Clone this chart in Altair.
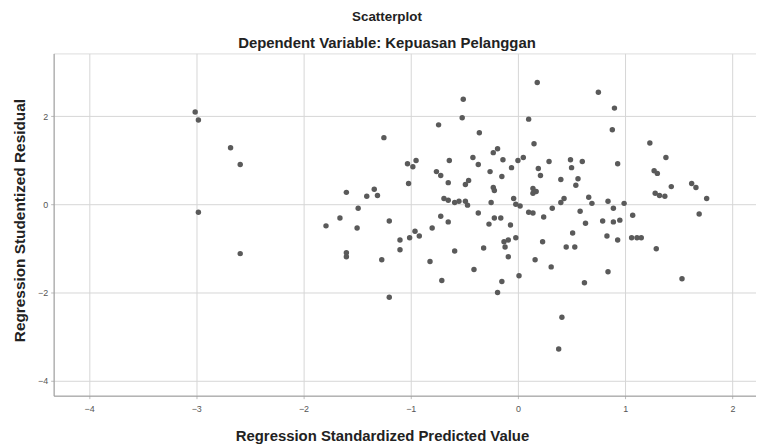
import altair as alt
import pandas as pd

# Regression Standardized Predicted Value
pred = [
    -3.01, -2.98, -2.68, -2.59, -2.98, -2.59, -1.79, -1.66, -1.60, -1.60,
    -1.60, -1.50, -1.49, -1.41, -1.34, -1.31, -1.27, -1.25, -1.20, -1.20,
    -1.10, -1.10, -1.03, -0.98, -0.95, -1.02, -1.01, -0.96, -0.92, -0.82,
    -0.80, -0.76, -0.72, -0.74, -0.72, -0.71, -0.69, -0.65, -0.65, -0.65,
    -0.64, -0.59, -0.59, -0.55, -0.52, -0.51, -0.49, -0.47, -0.46, -0.49,
    -0.42, -0.37, -0.41, -0.37, -0.36, -0.32, -0.27, -0.26, -0.25, -0.23,
    -0.22, -0.22, -0.23, -0.19, -0.19, -0.16, -0.15, -0.15, -0.14, -0.13,
    -0.12, -0.09, -0.09, -0.07, -0.06, -0.04, -0.02, 0.02, -0.02, 0.00,
    0.05, 0.01, 0.10, 0.10, 0.14, 0.14, 0.17, 0.14, 0.15, 0.16,
    0.18, 0.19, 0.21, 0.23, 0.24, 0.29, 0.31, 0.32, 0.38, 0.40,
    0.40, 0.43, 0.41, 0.45, 0.49, 0.50, 0.51, 0.53, 0.54, 0.56,
    0.58, 0.60, 0.62, 0.63, 0.66, 0.69, 0.75, 0.79, 0.83, 0.84,
    0.89, 0.84, 0.88, 0.89, 0.90, 0.93, 0.93, 0.95, 0.99, 1.06,
    1.11, 1.15, 1.07, 1.23, 1.27, 1.30, 1.28, 1.32, 1.37, 1.29,
    1.38, 1.43, 1.53, 1.62, 1.66, 1.69, 1.76,
]

# Regression Studentized Residual
resid = [
    2.09, 1.91, 1.28, 0.90, -0.18, -1.12, -0.49, -0.31, 0.27, -1.10,
    -1.19, -0.54, -0.09, 0.18, 0.34, 0.20, -1.26, 1.51, -0.38, -2.11,
    -0.81, -1.03, 0.92, 0.85, 0.99, 0.47, -0.76, -0.61, -0.72, -1.30,
    -0.54, 0.74, 0.65, 1.80, -0.27, -1.73, 0.13, 0.09, 0.49, -0.40,
    0.99, -1.06, 0.04, 0.07, 1.96, 2.38, 0.07, -0.02, 0.54, 0.45,
    1.06, 0.90, -1.48, -0.20, 1.62, -0.99, -0.45, 0.74, 0.04, 0.38,
    0.31, -0.31, 1.17, 1.26, -2.00, -0.31, 0.63, -1.75, 1.01, -0.85,
    -0.97, -0.81, -1.19, -0.47, 0.83, 0.13, 0.00, -0.04, -0.76, 0.99,
    1.06, -1.62, 1.93, -0.18, -0.20, 0.36, 0.29, 0.25, 1.37, -1.26,
    2.76, 0.81, 0.65, -0.85, -0.29, 0.97, -1.42, -0.09, -3.28, 0.56,
    0.04, 0.13, -2.56, -0.97, 1.01, 0.83, -0.65, -0.97, 0.43, 0.58,
    -0.16, 0.97, -1.78, -0.43, 0.16, 0.02, 2.54, -0.38, -0.72, 0.07,
    -0.09, -1.53, 1.69, -0.40, 2.18, 0.92, -0.81, -0.36, 0.02, -0.76,
    -0.76, -0.76, -0.25, 1.39, 0.76, 0.70, 0.25, 0.20, 0.18, -1.01,
    1.06, 0.40, -1.69, 0.47, 0.38, -0.22, 0.13,
]

x_ticks = [-4, -3, -2, -1, 0, 1, 2]
y_ticks = [-4, -2, 0, 2]

df = pd.DataFrame({"pred": pred, "resid": resid})

FONT = "Liberation Sans"

chart = (
    alt.Chart(df)
    .mark_circle(size=30, color="#5a5a5a", opacity=1)
    .encode(
        x=alt.X(
            "pred:Q",
            scale=alt.Scale(domain=[-4.33, 2.22], nice=False, zero=False),
            axis=alt.Axis(
                values=x_ticks,
                title="Regression Standardized Predicted Value",
                titleX=331,
                titleY=40,
                titleBaseline="middle",
                titleFontSize=15,
                titleFontWeight="bold",
                titleColor="#222222",
                titleFont=FONT,
                labelFont=FONT,
                labelFontSize=9,
                labelColor="#555555",
                labelPadding=6,
                tickSize=3,
                tickColor="#bbbbbb",
                domainColor="#999999",
                gridColor="#d6d6d6",
                gridWidth=1,
            ),
        ),
        y=alt.Y(
            "resid:Q",
            scale=alt.Scale(domain=[-4.34, 3.42], nice=False, zero=False),
            axis=alt.Axis(
                values=y_ticks,
                title="Regression Studentized Residual",
                titleX=-34,
                titleY=168,
                titleBaseline="middle",
                titleFontSize=15.5,
                titleFontWeight="bold",
                titleColor="#222222",
                titleFont=FONT,
                labelFont=FONT,
                labelFontSize=9,
                labelColor="#555555",
                labelPadding=3,
                tickSize=3,
                tickColor="#bbbbbb",
                domainColor="#999999",
                gridColor="#d6d6d6",
                gridWidth=1,
            ),
        ),
    )
    .properties(
        width=708,
        height=345,
        autosize=alt.AutoSizeParams(type="none"),
        padding={"left": 46, "top": 44, "right": 0, "bottom": 55},
        title=alt.TitleParams(
            text="Scatterplot",
            subtitle="Dependent Variable: Kepuasan Pelanggan",
            anchor="middle",
            dx=-18,
            font=FONT,
            fontSize=13.5,
            fontWeight="bold",
            color="#222222",
            subtitleFont=FONT,
            subtitleFontSize=15,
            subtitleFontWeight="bold",
            subtitleColor="#222222",
            subtitlePadding=13.5,
            offset=2,
        ),
    )
    .configure_view(stroke=None)
    .configure(background="white")
)

chart.save("out.html", embed_options={"renderer": "svg", "actions": False})
